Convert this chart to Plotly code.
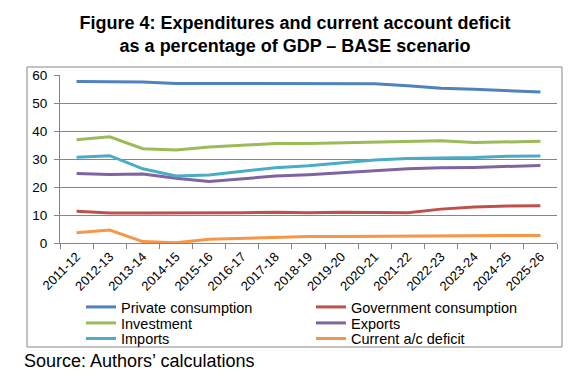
import plotly.graph_objects as go

years = ["2011-12", "2012-13", "2013-14", "2014-15", "2015-16", "2016-17", "2017-18",
         "2018-19", "2019-20", "2020-21", "2021-22", "2022-23", "2023-24", "2024-25", "2025-26"]

private_consumption = [57.7, 57.7, 57.5, 57.0, 57.0, 56.9, 56.8, 56.8, 57.0, 56.9, 56.2, 55.3, 54.9, 54.5, 53.9]
government_consumption = [11.3, 10.7, 10.7, 10.7, 10.7, 10.8, 11.0, 10.8, 11.0, 10.9, 10.8, 12.1, 12.9, 13.2, 13.3]
investment = [36.9, 37.9, 33.7, 33.2, 34.3, 34.9, 35.5, 35.5, 35.7, 35.9, 36.3, 36.5, 35.9, 36.2, 36.3]
exports = [24.8, 24.5, 24.6, 23.1, 22.0, 23.0, 23.9, 24.4, 25.2, 25.8, 26.5, 26.9, 27.0, 27.4, 27.7]
imports = [30.6, 31.2, 26.5, 23.9, 24.3, 25.5, 26.9, 27.6, 28.7, 29.6, 30.2, 30.4, 30.5, 31.0, 31.1]
current_ac_deficit = [3.7, 4.6, 0.5, 0.1, 1.3, 1.7, 2.1, 2.3, 2.3, 2.4, 2.5, 2.6, 2.6, 2.7, 2.7]

series = [
    ("Private consumption", private_consumption, "#4F81BD", "legend"),
    ("Government consumption", government_consumption, "#C0504D", "legend"),
    ("Investment", investment, "#9BBB59", "legend2"),
    ("Exports", exports, "#8064A2", "legend2"),
    ("Imports", imports, "#4BACC6", "legend3"),
    ("Current a/c deficit", current_ac_deficit, "#F79646", "legend3"),
]

fig = go.Figure()
for name, vals, col, lg in series:
    fig.add_trace(go.Scatter(x=years, y=vals, name=name, mode="lines",
                             line=dict(color=col, width=3), legend=lg))

# page offset (html body margin)
OFF = 8
FW, FH = 588 - OFF, 380 - OFF
# plot area in page pixels
L, R, T, B = 60, 557, 75, 243
W, H = R - L, B - T

def px_x(p):
    return (p - L) / W

def px_y(p):
    return (B - p) / H

grid = "#868686"
FONT = "Liberation Sans, Arial"

def legend_row(center_y):
    return dict(
        orientation="h", x=px_x(81), xanchor="left", y=px_y(center_y), yanchor="middle",
        entrywidth=185, entrywidthmode="pixels", font=dict(size=14.5, family=FONT, color="#000000"),
        bgcolor="rgba(0,0,0,0)", itemwidth=30,
    )

fig.update_layout(
    width=FW, height=FH,
    margin=dict(l=L - OFF, r=588 - R, t=T - OFF, b=380 - B, autoexpand=False),
    paper_bgcolor="white", plot_bgcolor="white",
    font=dict(family=FONT, color="#000000"),
    title=dict(
        text="<b>Figure 4: Expenditures and current account deficit<br>as a percentage of GDP – BASE scenario</b>",
        x=(295 - OFF) / FW, xanchor="center", y=1 - 21 / FH, yanchor="top",
        font=dict(size=18, family=FONT, color="#000000"),
    ),
    xaxis=dict(
        type="category", range=[-0.5, 14.5], tickson="boundaries",
        ticks="outside", ticklen=5, tickcolor=grid, showline=True, linecolor=grid,
        showgrid=False, tickangle=-45, tickfont=dict(size=13, color="#000000"),
    ),
    yaxis=dict(
        range=[0, 60], dtick=10, ticks="outside", ticklen=5, tickcolor=grid,
        showline=True, linecolor=grid, showgrid=True, gridcolor=grid, gridwidth=1,
        tickfont=dict(size=13.5, color="#000000"), zeroline=False, ticklabelstandoff=4,
    ),
    legend=legend_row(307),
    legend2=legend_row(323),
    legend3=legend_row(338.5),
    showlegend=True,
)

fig.add_shape(type="rect", xref="paper", yref="paper",
              x0=px_x(27), x1=px_x(562), y0=px_y(347), y1=px_y(67),
              line=dict(color=grid, width=1), fillcolor="rgba(0,0,0,0)", layer="below")

fig.add_annotation(text="Source: Authors’ calculations", xref="paper", yref="paper",
                   x=px_x(22), y=px_y(361), xanchor="left", yanchor="middle",
                   showarrow=False, font=dict(size=18, family=FONT, color="#000000"))

fig.write_html("out.html")
